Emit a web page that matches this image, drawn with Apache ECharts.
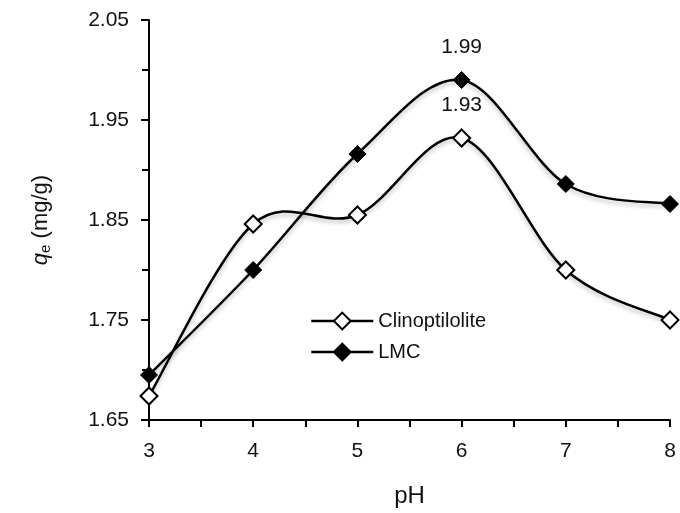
<!DOCTYPE html>
<html><head><meta charset="utf-8">
<script src="https://cdn.jsdelivr.net/npm/echarts@6/dist/echarts.min.js"></script>
<style>html,body{margin:0;padding:0;background:#fff}#c{width:680px;height:513px}</style>
</head><body><div id="c"></div>
<script>
const phValues = [3, 4, 5, 6, 7, 8];
const clinoptilolite = [1.674, 1.846, 1.855, 1.932, 1.800, 1.750];
const lmc = [1.695, 1.800, 1.916, 1.990, 1.886, 1.866];
const labelIndex = 3;

const font = 'Liberation Sans, Arial, sans-serif';

function build(vals) {
  return phValues.map((x, i) => {
    const d = { value: [x, vals[i]] };
    if (i === labelIndex) d.label = { show: true, position: 'top', distance: 13, formatter: vals[i].toFixed(2), color: '#111', fontSize: 21, fontFamily: font };
    return d;
  });
}

// Smooth curve (Catmull-Rom style Bezier, like spreadsheet smoothing) drawn via the axis scale
function curveSeries(name, vals, z) {
  return {
    name: name, type: 'custom', z: z, silent: true,
    data: [[phValues[0], vals[0]]],
    renderItem: function (params, api) {
      const pts = phValues.map((x, i) => api.coord([x, vals[i]]));
      const n = pts.length;
      let d = 'M' + pts[0][0] + ',' + pts[0][1];
      for (let i = 0; i < n - 1; i++) {
        const p0 = pts[Math.max(i - 1, 0)], p1 = pts[i], p2 = pts[i + 1], p3 = pts[Math.min(i + 2, n - 1)];
        const c1 = [p1[0] + (p2[0] - p0[0]) / 6, p1[1] + (p2[1] - p0[1]) / 6];
        const c2 = [p2[0] - (p3[0] - p1[0]) / 6, p2[1] - (p3[1] - p1[1]) / 6];
        d += ' C' + c1[0] + ',' + c1[1] + ' ' + c2[0] + ',' + c2[1] + ' ' + p2[0] + ',' + p2[1];
      }
      return {
        type: 'path', shape: { pathData: d },
        style: { fill: null, stroke: '#000', lineWidth: 2.5, shadowColor: 'rgba(0,0,0,0.25)', shadowBlur: 4, shadowOffsetY: 3 }
      };
    }
  };
}

const chart = echarts.init(document.getElementById('c'));
chart.setOption({
  animation: false,
  grid: { left: 149, right: 10, top: 20, bottom: 93 },
  legend: {
    orient: 'vertical', left: 305, top: 306, itemWidth: 62, itemHeight: 21, itemGap: 11,
    textStyle: { fontSize: 20, color: '#111', fontFamily: font },
    lineStyle: { color: '#000', width: 2.5, opacity: 1, type: 'solid' },
    data: ['Clinoptilolite', 'LMC']
  },
  xAxis: {
    type: 'value', min: 3, max: 8, interval: 1,
    name: 'pH', nameLocation: 'middle', nameGap: 64,
    nameTextStyle: { fontSize: 24, color: '#111', fontFamily: font },
    axisLine: { lineStyle: { color: '#000', width: 2 } },
    axisTick: { show: true, length: 7, lineStyle: { color: '#000', width: 2 } },
    minorTick: { show: true, splitNumber: 2, length: 7, lineStyle: { color: '#000', width: 2 } },
    axisLabel: { fontSize: 21, color: '#111', margin: 21, fontFamily: font },
    splitLine: { show: false }
  },
  yAxis: {
    type: 'value', min: 1.65, max: 2.05, interval: 0.1,
    name: '{q|q}{e|e}{t| (mg/g)}', nameLocation: 'middle', nameGap: 96, nameRotate: 90,
    nameTextStyle: { fontSize: 22, color: '#111', fontFamily: font,
      rich: { q: { fontSize: 22, fontStyle: 'italic', color: '#111', fontFamily: font },
              e: { fontSize: 15, color: '#111', fontFamily: font, verticalAlign: 'bottom', padding: [10, 0, 0, 0] },
              t: { fontSize: 22, color: '#111', fontFamily: font } } },
    axisLine: { show: true, lineStyle: { color: '#000', width: 2 } },
    axisTick: { show: true, length: 8, lineStyle: { color: '#000', width: 2 } },
    minorTick: { show: true, splitNumber: 2, length: 7, lineStyle: { color: '#000', width: 2 } },
    axisLabel: { fontSize: 21, color: '#111', margin: 20, fontFamily: font, formatter: v => v.toFixed(2) },
    splitLine: { show: false }
  },
  series: [
    curveSeries('Clinoptilolite curve', clinoptilolite, 1),
    curveSeries('LMC curve', lmc, 1),
    { name: 'Clinoptilolite', type: 'line', data: build(clinoptilolite),
      symbol: 'diamond', symbolSize: 17, showAllSymbol: true, clip: false,
      lineStyle: { width: 0, opacity: 0 },
      itemStyle: { color: '#fff', borderColor: '#000', borderWidth: 2 }, z: 4 },
    { name: 'LMC', type: 'line', data: build(lmc),
      symbol: 'diamond', symbolSize: 17, showAllSymbol: true, clip: false,
      lineStyle: { width: 0, opacity: 0 },
      itemStyle: { color: '#000', borderColor: '#000', borderWidth: 1 }, z: 3 }
  ]
});
</script></body></html>
